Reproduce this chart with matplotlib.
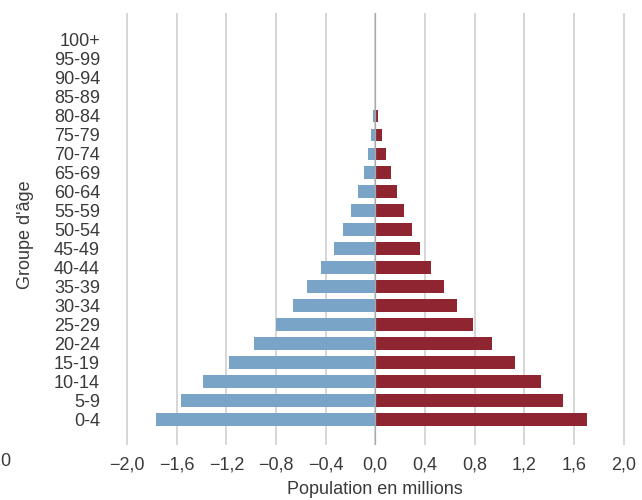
import numpy as np
import matplotlib.pyplot as plt
from matplotlib.ticker import FuncFormatter

plt.rcParams['font.family'] = ['Liberation Sans', 'DejaVu Sans']

groupes = ['0-4', '5-9', '10-14', '15-19', '20-24', '25-29', '30-34', '35-39',
           '40-44', '45-49', '50-54', '55-59', '60-64', '65-69', '70-74',
           '75-79', '80-84', '85-89', '90-94', '95-99', '100+']
# millions
hommes = [1.769, 1.568, 1.385, 1.176, 0.974, 0.803, 0.663, 0.551, 0.440, 0.336,
          0.261, 0.193, 0.140, 0.094, 0.062, 0.035, 0.019, 0.005, 0.002, 0.0005, 0.0]
femmes = [1.703, 1.510, 1.335, 1.129, 0.944, 0.785, 0.656, 0.557, 0.452, 0.358,
          0.292, 0.231, 0.177, 0.128, 0.088, 0.051, 0.023, 0.008, 0.003, 0.001, 0.0]
ticks = [-2.0, -1.6, -1.2, -0.8, -0.4, 0.0, 0.4, 0.8, 1.2, 1.6, 2.0]

txt = '#3a3a3a'
bleu = '#7aa3c8'
rouge = '#8e2530'

fig = plt.figure(figsize=(6.42, 5.0), dpi=100)
ax = fig.add_axes([0.1882, 0.11, 0.9809 - 0.1882, 0.974 - 0.11])

y = np.arange(len(groupes))
ax.barh(y, -np.array(hommes), height=0.68, color=bleu, zorder=2)
ax.barh(y, femmes, height=0.68, color=rouge, zorder=2)
ax.axvline(0, color='#a8a8a8', lw=0.9, zorder=3)

ax.set_xlim(-2.05, 2.05)
ax.set_ylim(-1.32, 21.42)
ax.set_xticks(ticks)
ax.xaxis.set_major_formatter(FuncFormatter(
    lambda v, p: ('%.1f' % v).replace('-', '\u2212').replace('.', ',')))
ax.set_yticks(y)
ax.set_yticklabels(groupes)

ax.grid(axis='x', color='#d6d6d6', lw=1.4, zorder=0)
ax.set_axisbelow(True)
for s in ax.spines.values():
    s.set_visible(False)
ax.tick_params(axis='both', length=0, labelsize=13, labelcolor=txt)
ax.tick_params(axis='y', pad=15)
ax.tick_params(axis='x', pad=8)

ax.set_xlabel('Population en millions', fontsize=13, color=txt, labelpad=6)
fig.text(25 / 642, 0.53, "Groupe d'âge", rotation=90, fontsize=13,
         color=txt, ha='center', va='center')
# reste du panneau voisin au bord gauche
fig.text(0.0, 0.077, '0', fontsize=13, color=txt, ha='left', va='center')

fig.savefig('out.png', dpi=100)
